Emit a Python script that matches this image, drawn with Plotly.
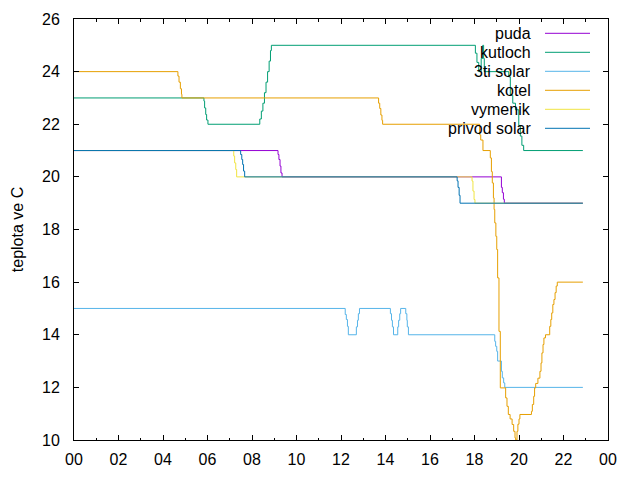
import plotly.graph_objects as go

# ---- data (hours of day, temperature in C) ----
puda_t = [0, 9.17, 9.21, 9.26, 9.30, 9.35, 19.21, 19.25, 19.30, 19.34, 22.87]
puda_v = [21, 20.85, 20.66, 20.41, 20.15, 20.0, 19.6, 19.4, 19.15, 19.0, 19.0]

kutloch_t = [0, 5.84, 5.87, 5.92, 5.96, 6.02,
             8.35, 8.42, 8.49, 8.56, 8.63, 8.70, 8.77, 8.83, 8.87,
             18.04, 18.11, 18.19, 18.30, 18.37, 18.41, 18.44,
             19.54, 19.61, 19.72, 19.84, 19.99, 20.06, 20.13, 20.21, 22.87]
kutloch_v = [23, 22.88, 22.62, 22.37, 22.16, 22.0,
             22.2, 22.5, 22.8, 23.2, 23.6, 24.0, 24.4, 24.8, 25.0,
             24.7, 24.35, 24.0, 24.5, 25.0, 24.5, 24.0,
             23.8, 23.1, 22.8, 22.55, 21.95, 21.55, 21.2, 21.0, 21.0]

solar3_t = [0, 12.19, 12.24, 12.29, 12.33, 12.69, 12.74, 12.78, 12.83,
            14.22, 14.27, 14.31, 14.36, 14.55, 14.59, 14.64, 14.68,
            14.91, 14.96, 14.98, 15.03,
            18.91, 18.95, 19.00, 19.04, 19.21, 19.25, 19.31, 19.36, 22.87]
solar3_v = [15, 14.77, 14.58, 14.32, 14.0, 14.3, 14.55, 14.8, 15.0,
            14.8, 14.55, 14.3, 14.0, 14.3, 14.55, 14.8, 15.0,
            14.8, 14.55, 14.3, 14.0,
            13.75, 13.56, 13.37, 13.0, 12.61, 12.36, 12.17, 12.0, 12.0]

kotel_t = [0, 4.67, 4.72, 4.78, 4.83, 4.85,
           13.69, 13.74, 13.79, 13.84, 13.87,
           18.23, 18.28, 18.38,
           18.71, 18.76, 18.80, 18.85, 18.88, 18.91, 18.96, 19.00, 19.04, 19.10, 19.16,
           19.40, 19.46, 19.52, 19.60, 19.69, 19.76, 19.82, 19.85,
           19.91, 19.95, 20.00, 20.04,
           20.56, 20.60, 20.66, 20.70, 20.75, 20.85, 20.94, 20.99, 21.03, 21.08, 21.12, 21.19,
           21.38, 21.43, 21.47, 21.52, 21.57, 21.62, 21.67, 21.72, 22.87]
kotel_v = [24, 23.83, 23.6, 23.35, 23.14, 23.0,
           22.8, 22.6, 22.35, 22.15, 22.0,
           21.6, 21.4, 21.0,
           20.72, 20.2, 19.77, 19.2, 18.76, 18.25, 17.74, 17.24, 16.16, 14.13, 11.98,
           11.6, 11.28, 10.97, 10.8, 10.59, 10.33, 10.08, 10.0,
           10.33, 10.6, 10.8, 10.97,
           11.09, 11.35, 11.66, 11.98, 12.15, 12.35, 12.61, 12.93, 13.31, 13.63, 13.88, 14.0,
           14.32, 14.58, 14.83, 15.15, 15.34, 15.6, 15.85, 16.0, 16.0]

vymenik_t = [0, 7.18, 7.22, 7.27, 7.31, 17.89, 17.93, 17.98, 18.02, 22.87]
vymenik_v = [21, 20.79, 20.53, 20.28, 20.0, 19.84, 19.46, 19.14, 19.0, 19.0]

privod_t = [0, 7.49, 7.54, 7.58, 7.62, 7.67, 17.22, 17.26, 17.31, 17.35, 22.87]
privod_v = [21, 20.85, 20.66, 20.47, 20.22, 20.0, 19.85, 19.6, 19.3, 19.0, 19.0]

series_names = ["puda", "kutloch", "3ti solar", "kotel", "vymenik", "privod solar"]
series_t = [puda_t, kutloch_t, solar3_t, kotel_t, vymenik_t, privod_t]
series_v = [puda_v, kutloch_v, solar3_v, kotel_v, vymenik_v, privod_v]
colors = ["#9400d3", "#009e73", "#56b4e9", "#e69f00", "#f0e442", "#0072b2"]

x_tickvals = list(range(0, 25, 2))
x_ticktext = ["00", "02", "04", "06", "08", "10", "12", "14", "16", "18", "20", "22", "00"]
y_tickvals = list(range(10, 27, 2))

FONT = "Liberation Sans, Arial, sans-serif"

fig = go.Figure()
for name, t, v, c in zip(series_names, series_t, series_v, colors):
    fig.add_trace(go.Scatter(x=t, y=v, mode="lines", name=name,
                             line=dict(color=c, width=1, shape="hv"),
                             showlegend=False, cliponaxis=True))

# gnuplot-style key (text right, sample line on the right)
W, H = 640, 480
L, R, T, B = 74, 32, 19, 40
pw, ph = W - L - R, H - T - B
def px(xp):
    return (xp - L) / pw
def py(yp):
    return (H - B - yp) / ph

key_y = [33.3, 52.3, 71.3, 90.3, 109.3, 128.3]
shapes = []
annotations = []
for name, c, yy in zip(series_names, colors, key_y):
    annotations.append(dict(x=px(533), y=py(yy), xref="paper", yref="paper",
                            text=name, showarrow=False, xanchor="right",
                            yanchor="middle",
                            font=dict(family=FONT, size=16, color="#000000")))
    shapes.append(dict(type="line", xref="paper", yref="paper",
                       x0=px(545), x1=px(590), y0=py(yy), y1=py(yy),
                       line=dict(color=c, width=1)))

fig.update_layout(
    width=W, height=H, autosize=False,
    margin=dict(l=L, r=R, t=T, b=B, pad=0),
    plot_bgcolor="white", paper_bgcolor="white",
    font=dict(family=FONT, size=16, color="#000000"),
    shapes=shapes, annotations=annotations,
    showlegend=False,
)
fig.update_xaxes(range=[0, 24], tickvals=x_tickvals, ticktext=x_ticktext,
                 ticks="inside", ticklen=5, tickcolor="black", tickwidth=1,
                 minor=dict(dtick=1, tick0=0, ticks="inside", ticklen=2.5,
                            tickcolor="black", showgrid=False),
                 showline=True, linecolor="black", linewidth=1, mirror="allticks",
                 showgrid=False, zeroline=False, ticklabelstandoff=5,
                 tickfont=dict(family=FONT, size=16, color="#000000"))
fig.update_yaxes(range=[10, 26], tickvals=y_tickvals,
                 ticks="inside", ticklen=5, tickcolor="black", tickwidth=1,
                 showline=True, linecolor="black", linewidth=1, mirror="allticks",
                 showgrid=False, zeroline=False, ticklabelstandoff=10,
                 tickfont=dict(family=FONT, size=16, color="#000000"),
                 title=dict(text="teplota ve C", standoff=14,
                            font=dict(family=FONT, size=16, color="#000000")))

fig.write_html("out.html")
